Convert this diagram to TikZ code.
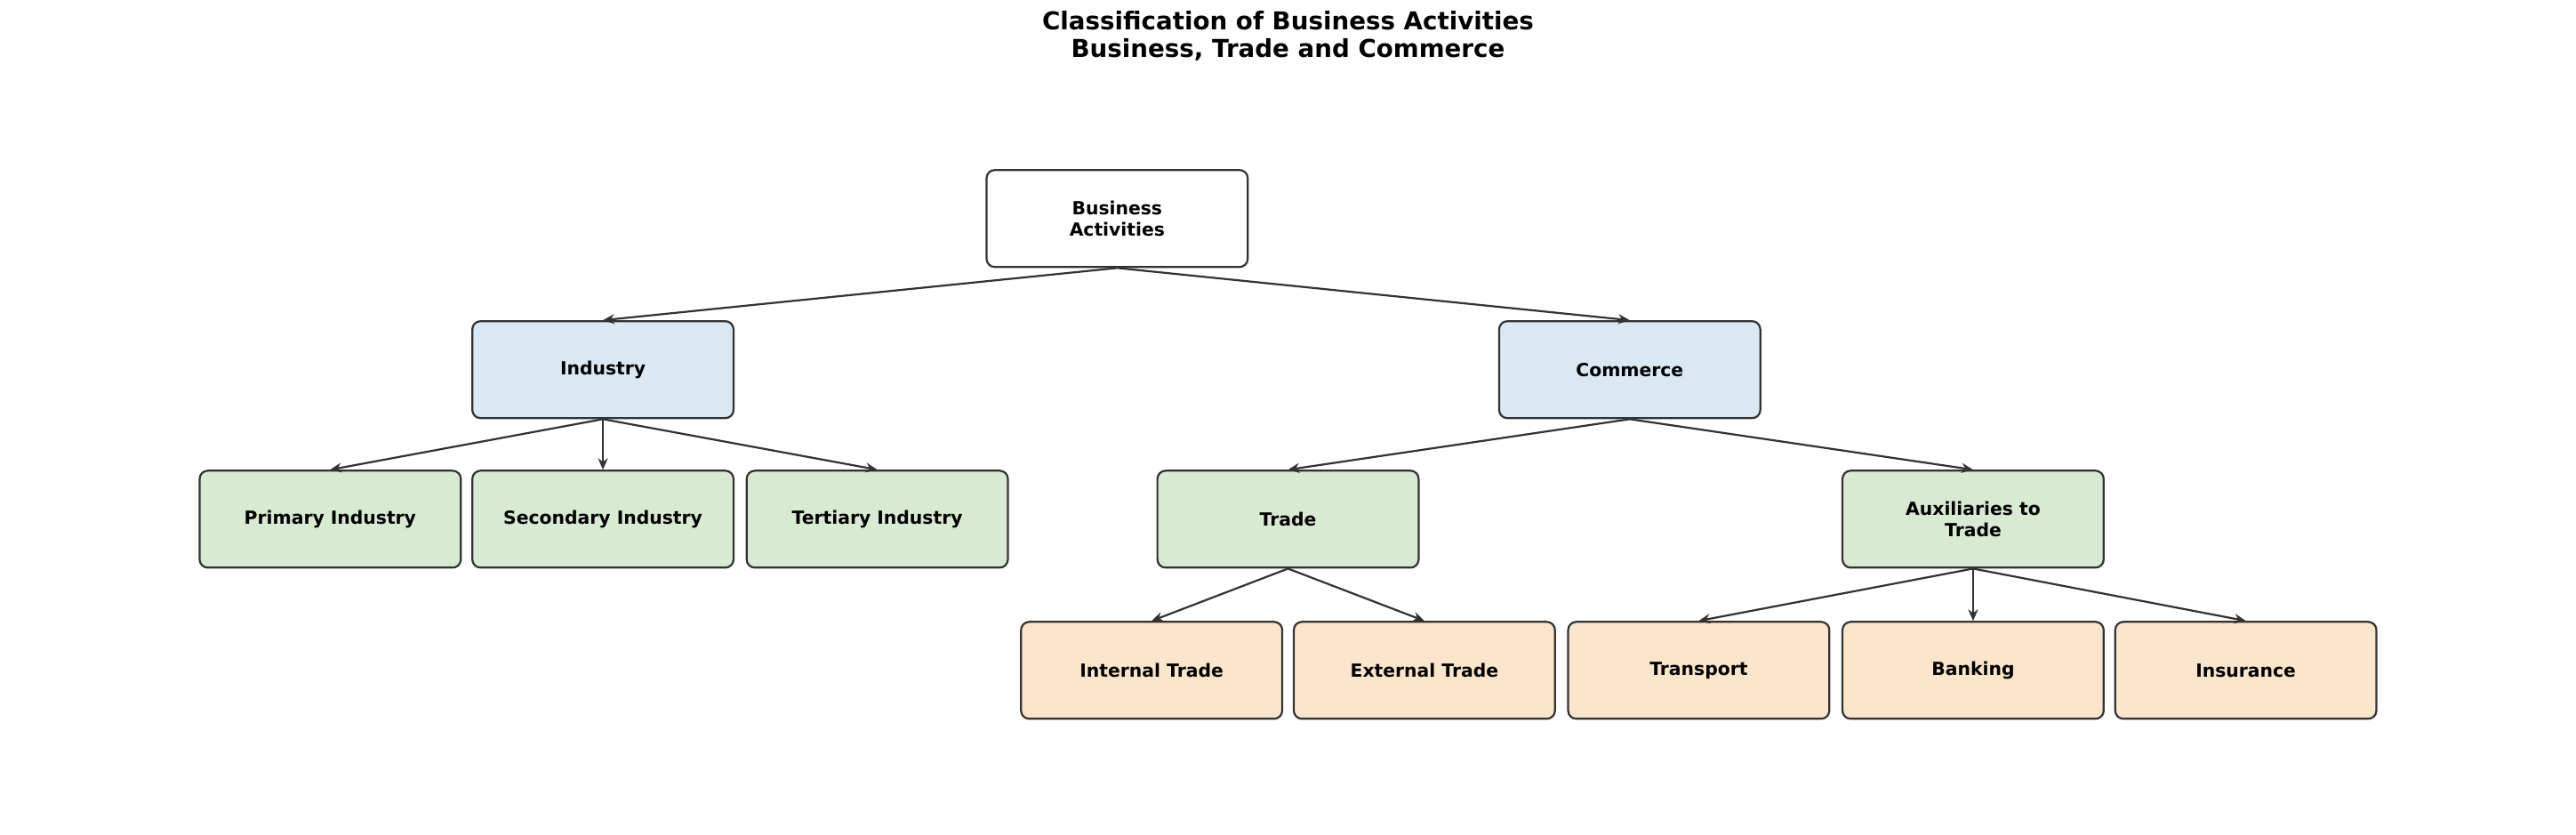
\documentclass[tikz,border=0pt]{standalone}
\usepackage{fontspec}
\setmainfont{DejaVu Sans}
\usetikzlibrary{arrows.meta}
\definecolor{cblue}{HTML}{DAE8F4}
\definecolor{cgreen}{HTML}{D9EAD3}
\definecolor{corange}{HTML}{FCE5CD}
\definecolor{cline}{HTML}{333333}
\begin{document}
\begin{tikzpicture}[x=1pt,y=-1pt,
  box/.style={draw=cline,line width=1.2pt,rounded corners=5pt,minimum width=159pt,minimum height=59pt,align=center,font=\fontsize{11}{13}\selectfont\bfseries,inner sep=2pt},
  arr/.style={draw=cline,line width=1.2pt,-{Stealth[length=7pt,width=6pt]}}]
\useasboundingbox (0,0) rectangle (1568,508);
\node[font=\fontsize{15}{17}\selectfont\bfseries,align=center] (title) at (784,22) {Classification of Business Activities\\Business, Trade and Commerce};
\node[box,fill=white] (ba) at (680,133) {Business\\Activities};
\node[box,fill=cblue] (ind) at (367,225) {Industry};
\node[box,fill=cblue] (com) at (992,225) {Commerce};
\node[box,fill=cgreen] (pri) at (201,316) {Primary Industry};
\node[box,fill=cgreen] (sec) at (367,316) {Secondary Industry};
\node[box,fill=cgreen] (ter) at (534,316) {Tertiary Industry};
\node[box,fill=cgreen] (tra) at (784,316) {Trade};
\node[box,fill=cgreen] (aux) at (1201,316) {Auxiliaries to\\Trade};
\node[box,fill=corange] (int) at (701,408) {Internal Trade};
\node[box,fill=corange] (ext) at (867,408) {External Trade};
\node[box,fill=corange] (tsp) at (1034,408) {Transport};
\node[box,fill=corange] (bnk) at (1201,408) {Banking};
\node[box,fill=corange] (ins) at (1367,408) {Insurance};
\foreach \a/\b in {ba/ind,ba/com,ind/pri,ind/sec,ind/ter,com/tra,com/aux,tra/int,tra/ext,aux/tsp,aux/bnk,aux/ins}
  \draw[arr] (\a.south) -- (\b.north);
\end{tikzpicture}
\end{document}
